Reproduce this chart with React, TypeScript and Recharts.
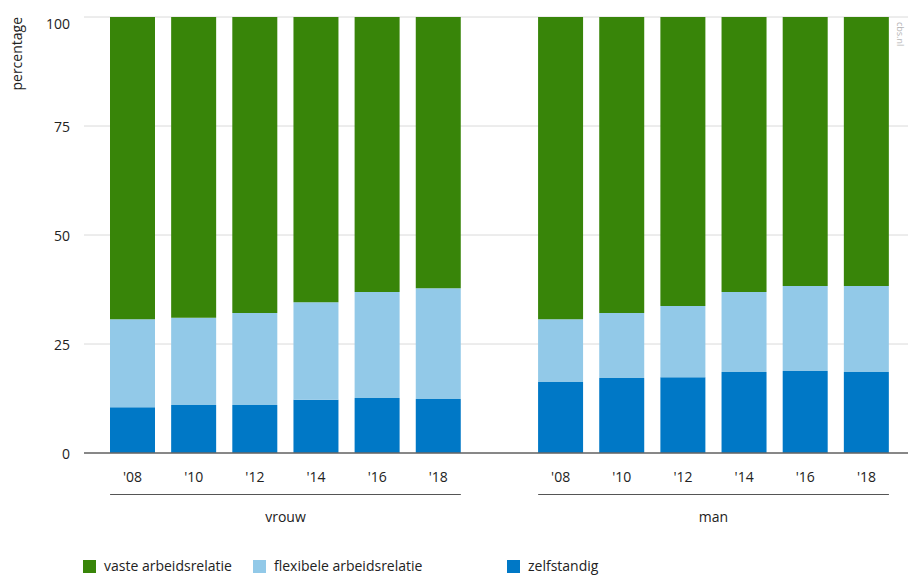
import { Bar, BarChart, CartesianGrid, Legend, XAxis, YAxis } from "recharts";

const YEARS = ["'08", "'10", "'12", "'14", "'16", "'18"];
const GROUPS = ["vrouw", "man"];

// percentages
const VROUW_ZELF = [10.5, 11.0, 11.0, 12.2, 12.6, 12.4];
const VROUW_FLEX = [20.2, 20.0, 21.1, 22.4, 24.3, 25.4];
const VROUW_VAST = [69.3, 69.0, 67.9, 65.4, 63.1, 62.2];

const MAN_ZELF = [16.3, 17.2, 17.4, 18.6, 18.8, 18.6];
const MAN_FLEX = [14.4, 14.9, 16.3, 18.3, 19.5, 19.7];
const MAN_VAST = [69.3, 67.9, 66.3, 63.1, 61.7, 61.7];

const Y_TICKS = [0, 25, 50, 75, 100];

const SERIES = [
  { key: "vast", name: "vaste arbeidsrelatie", color: "#388509" },
  { key: "flex", name: "flexibele arbeidsrelatie", color: "#92c9e8" },
  { key: "zelf", name: "zelfstandig", color: "#0078c6" },
];

type Row = {
  key: string;
  label: string;
  group: string;
  pos: number;
  zelf: number | null;
  flex: number | null;
  vast: number | null;
};

function groupRows(group: string, zelf: number[], flex: number[], vast: number[]): Row[] {
  return YEARS.map((label, i) => ({
    key: `${group}-${label}`,
    label,
    group,
    pos: i,
    zelf: zelf[i],
    flex: flex[i],
    vast: vast[i],
  }));
}

const rows: Row[] = [
  ...groupRows(GROUPS[0], VROUW_ZELF, VROUW_FLEX, VROUW_VAST),
  { key: "gap", label: "", group: "", pos: -1, zelf: null, flex: null, vast: null },
  ...groupRows(GROUPS[1], MAN_ZELF, MAN_FLEX, MAN_VAST),
];
const rowByKey = new Map(rows.map((r) => [r.key, r]));

const WIDTH = 908;
const HEIGHT = 576;
const Y_AXIS_W = 84;
const PAD_L = 18;
const PAD_R = 11;
const BAR = 45;
const BAND = (WIDTH - Y_AXIS_W - PAD_L - PAD_R) / rows.length;
const FONT = "'Open Sans', 'Noto Sans', sans-serif";
const TEXT = "#222";

function YearTick(props: any) {
  const { x, y, payload } = props;
  const row = rowByKey.get(payload.value);
  if (!row || row.pos < 0) return null;
  const lineStart = x - BAR / 2;
  const lineEnd = lineStart + (YEARS.length - 1) * BAND + BAR;
  return (
    <g>
      <text x={x} y={y + 23} textAnchor="middle" dominantBaseline="central" fill={TEXT} fontSize={14}>
        {row.label}
      </text>
      {row.pos === 0 && (
        <>
          <line x1={lineStart} x2={lineEnd} y1={y + 41.5} y2={y + 41.5} stroke="#555" strokeWidth={1.2} />
          <text
            x={(lineStart + lineEnd) / 2}
            y={y + 63}
            textAnchor="middle"
            dominantBaseline="central"
            fill={TEXT}
            fontSize={14}
          >
            {row.group}
          </text>
        </>
      )}
    </g>
  );
}

function ValueTick(props: any) {
  const { x, y, payload } = props;
  return (
    <text x={x} y={Math.max(y, 23)} textAnchor="end" dominantBaseline="central" fill={TEXT} fontSize={14}>
      {payload.value}
    </text>
  );
}

function AxisTitle() {
  return (
    <text x={0} y={0} transform="translate(22, 17) rotate(-90)" textAnchor="end" fill={TEXT} fontSize={14}>
      percentage
    </text>
  );
}

const LEGEND_X = [83, 253, 507];

function LegendContent() {
  return (
    <div style={{ position: "relative", height: 30, fontFamily: FONT, fontSize: 14, color: TEXT }}>
      {SERIES.map((s, i) => (
        <div
          key={s.key}
          style={{
            position: "absolute",
            left: LEGEND_X[i],
            top: 12,
            height: 16,
            lineHeight: "16px",
            display: "flex",
            alignItems: "center",
            whiteSpace: "nowrap",
          }}
        >
          <span style={{ width: 13, height: 13, background: s.color, display: "inline-block", marginRight: 8 }} />
          <span>{s.name}</span>
        </div>
      ))}
    </div>
  );
}

export default function App() {
  return (
    <div style={{ position: "absolute", left: 0, top: 0, width: WIDTH, height: HEIGHT, fontFamily: FONT }}>
      <BarChart
        width={WIDTH}
        height={HEIGHT}
        data={rows}
        margin={{ top: 17, right: 0, bottom: 0, left: 0 }}
        style={{ fontFamily: FONT }}
      >
        <CartesianGrid vertical={false} stroke="#dadada" strokeWidth={1} />
        <XAxis
          dataKey="key"
          interval={0}
          height={93}
          tick={<YearTick />}
          tickLine={false}
          tickSize={0}
          tickMargin={0}
          axisLine={{ stroke: "#666", strokeWidth: 1.5 }}
          padding={{ left: PAD_L, right: PAD_R }}
        />
        <YAxis
          domain={[0, 100]}
          ticks={Y_TICKS}
          width={Y_AXIS_W}
          axisLine={false}
          tickLine={false}
          tickSize={0}
          tickMargin={14}
          tick={<ValueTick />}
          label={<AxisTitle />}
        />
        <Legend verticalAlign="bottom" content={<LegendContent />} />
        <Bar dataKey="zelf" name={SERIES[2].name} stackId="a" fill={SERIES[2].color} barSize={BAR} isAnimationActive={false} />
        <Bar dataKey="flex" name={SERIES[1].name} stackId="a" fill={SERIES[1].color} barSize={BAR} isAnimationActive={false} />
        <Bar dataKey="vast" name={SERIES[0].name} stackId="a" fill={SERIES[0].color} barSize={BAR} isAnimationActive={false} />
        <text x={0} y={0} transform="translate(897, 22) rotate(90)" fill="#b5b5b5" fontSize={9}>
          cbs.nl
        </text>
      </BarChart>
    </div>
  );
}
